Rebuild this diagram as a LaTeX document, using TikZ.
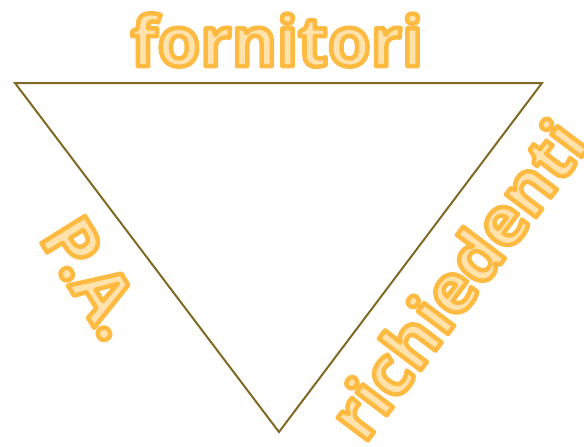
\documentclass[tikz,border=0pt]{standalone}
\usepackage{fontspec}
\setmainfont{Open Sans}
\definecolor{triline}{RGB}{130,105,35}
\definecolor{lblfill}{RGB}{255,226,172}
\newcommand\outlined[1]{{\color{lblfill}\special{pdf:literal q 2 Tr 4.5 w 1 J 1 j 1 0.73 0.26 RG}#1\special{pdf:literal Q}}}
\begin{document}
\begin{tikzpicture}[x=1pt,y=-1pt,
  lbl/.style={inner sep=0pt, font=\fontsize{69}{69}\selectfont\bfseries}]
\useasboundingbox (0,0) rectangle (584,447);
\coordinate (tl) at (15,83);
\coordinate (tr) at (542,83);
\coordinate (bt) at (279,432);
\draw[triline, line width=2pt, line join=miter] (tl) -- (tr) -- (bt) -- cycle;
\node[lbl] (forn) at (277,40) {\outlined{fornitori}};
\node[lbl, rotate=-58, font=\fontsize{72}{72}\selectfont\bfseries] (pa) at (93,278) {\outlined{P.A.}};
\node[lbl, rotate=53] (rich) at (457,279) {\outlined{richiedenti}};
\end{tikzpicture}
\end{document}
